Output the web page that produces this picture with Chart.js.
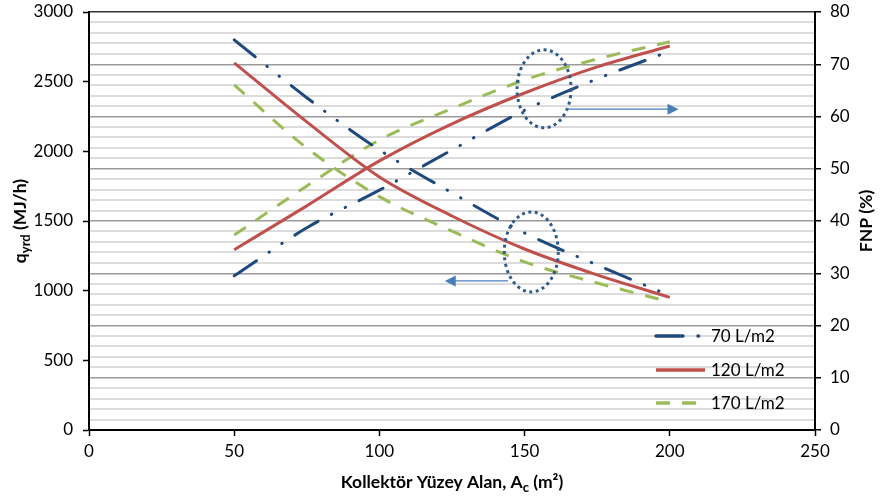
<!DOCTYPE html>
<html>
<head>
<meta charset="utf-8">
<script src="https://cdn.jsdelivr.net/npm/chart.js@4.4.0/dist/chart.umd.min.js"></script>
<style>
	body { margin: 0; background: #fff; }
	canvas { display: block; }
</style>
</head>
<body>
<canvas id="fnp-chart" width="882" height="500"></canvas>
<script>
// Kollektör alanı (m2)
const areas = [50, 75, 100, 125, 150, 175, 200];

// q_yrd (MJ/h) - left axis
const q70 = [2800, 2385, 2010, 1702, 1414, 1184, 965];
const q120 = [2635, 2211, 1816, 1536, 1299, 1113, 952];
const q170 = [2477, 2024, 1675, 1428, 1206, 1055, 919];

// FNP (%) - right axis
const fnp70 = [29.5, 38.7, 45.9, 53.6, 61.2, 67.2, 72.5];
const fnp120 = [34.5, 42.9, 51.5, 58.6, 64.5, 69.5, 73.5];
const fnp170 = [37.3, 46.7, 55.5, 61.5, 67.0, 71.0, 74.3];

const seriesNames = ['70 L/m2', '120 L/m2', '170 L/m2'];

const BLUE = '#1F497D';
const RED = '#C0504D';
const GREEN = '#9BBB59';
const FONT = 'Lato, "Open Sans", sans-serif';

const styles = [
	{ color: BLUE, dash: [27, 15, 0.5, 15, 0.5, 15], cap: 'round' },
	{ color: RED, dash: [], cap: 'butt' },
	{ color: GREEN, dash: [14, 12], cap: 'butt' }
];

const pts = (ys) => areas.map((x, i) => ({ x: x, y: ys[i] }));

function makeSet(label, ys, st, axis) {
	return {
		label: label,
		data: pts(ys),
		yAxisID: axis,
		borderColor: st.color,
		borderWidth: 3,
		borderDash: st.dash,
		borderCapStyle: st.cap,
		pointRadius: 0,
		fill: false,
		tension: 0.4,
		cubicInterpolationMode: 'monotone'
	};
}

// keep the plot box fixed: no extra room for half label heights
const noPad = (s) => {
	s.paddingTop = 0;
	s.paddingBottom = 0;
	s.paddingLeft = 0;
	s.paddingRight = 0;
};

// ellipses, arrows, legend and axis titles
const decor = {
	id: 'decor',
	afterDatasetsDraw(chart) {
		const c = chart.ctx;
		const x = chart.scales.x, yl = chart.scales.y, yr = chart.scales.y1;

		// dotted ellipses
		c.save();
		c.strokeStyle = '#2E5A8C';
		c.lineWidth = 3;
		c.setLineDash([3, 3.5]);
		c.beginPath();
		c.ellipse(x.getPixelForValue(156.7), yr.getPixelForValue(65.3), 27, 39, 0, 0, Math.PI * 2);
		c.stroke();
		c.beginPath();
		c.ellipse(x.getPixelForValue(152.3), yl.getPixelForValue(1278), 27, 40, 0, 0, Math.PI * 2);
		c.stroke();
		c.restore();

		// arrows
		const arrow = (x0, x1, y) => {
			c.save();
			c.strokeStyle = '#4A7EBB';
			c.fillStyle = '#4A7EBB';
			c.lineWidth = 1.3;
			const dir = Math.sign(x1 - x0);
			c.beginPath();
			c.moveTo(x0, y);
			c.lineTo(x1 - dir * 10, y);
			c.stroke();
			c.beginPath();
			c.moveTo(x1, y);
			c.lineTo(x1 - dir * 11, y - 5.5);
			c.lineTo(x1 - dir * 11, y + 5.5);
			c.closePath();
			c.fill();
			c.restore();
		};
		arrow(x.getPixelForValue(164.4), x.getPixelForValue(203), yr.getPixelForValue(61.4));
		arrow(x.getPixelForValue(144.3), x.getPixelForValue(122.5), yl.getPixelForValue(1070));
	},
	afterDraw(chart) {
		const c = chart.ctx;
		const a = chart.chartArea;

		// legend
		const legY = [336, 370, 403];
		c.save();
		styles.forEach((st, i) => {
			c.strokeStyle = st.color;
			c.lineWidth = 3.5;
			c.lineCap = st.cap;
			c.setLineDash(st.dash);
			c.beginPath();
			c.moveTo(656, legY[i]);
			c.lineTo(705, legY[i]);
			c.stroke();
			c.setLineDash([]);
			c.fillStyle = '#000';
			c.font = '17px ' + FONT;
			c.textAlign = 'left';
			c.textBaseline = 'middle';
			c.fillText(seriesNames[i], 711, legY[i] + 1);
		});
		c.restore();

		// titles with subscripts
		const drawParts = (parts, cx, cy, rot) => {
			c.save();
			c.translate(cx, cy);
			c.rotate(rot);
			c.fillStyle = '#000';
			c.textBaseline = 'alphabetic';
			c.textAlign = 'left';
			let w = 0;
			parts.forEach(p => {
				c.font = 'bold ' + (p.sub ? 13 : 17.5) + 'px ' + FONT;
				p.w = c.measureText(p.t).width;
				w += p.w;
			});
			let px = -w / 2;
			parts.forEach(p => {
				c.font = 'bold ' + (p.sub ? 13 : 17.5) + 'px ' + FONT;
				c.fillText(p.t, px, 6 + (p.sub ? 4 : 0));
				px += p.w;
			});
			c.restore();
		};
		const mid = (a.top + a.bottom) / 2;
		drawParts([{ t: 'Kollektör Yüzey Alan, A' }, { t: 'c', sub: true }, { t: ' (m²)' }],
			(a.left + a.right) / 2, 482, 0);
		drawParts([{ t: 'q' }, { t: 'yrd', sub: true }, { t: ' (MJ/h)' }], 20, mid, -Math.PI / 2);
		drawParts([{ t: 'FNP (%)' }], 866, mid, -Math.PI / 2);
	}
};

const tickFont = { family: FONT, size: 17 };

const ctx = document.getElementById('fnp-chart');
new Chart(ctx, {
	type: 'line',
	data: {
		datasets: [
			makeSet(seriesNames[0], q70, styles[0], 'y'),
			makeSet(seriesNames[1], q120, styles[1], 'y'),
			makeSet(seriesNames[2], q170, styles[2], 'y'),
			makeSet(seriesNames[0], fnp70, styles[0], 'y1'),
			makeSet(seriesNames[1], fnp120, styles[1], 'y1'),
			makeSet(seriesNames[2], fnp170, styles[2], 'y1')
		]
	},
	options: {
		responsive: false,
		animation: false,
		layout: { padding: { top: 12, left: 0, right: 0, bottom: 0 } },
		plugins: {
			legend: { display: false },
			tooltip: { enabled: false }
		},
		scales: {
			x: {
				type: 'linear',
				min: 0,
				max: 250,
				z: 1,
				afterFit: (s) => { s.height = 70; noPad(s); },
				ticks: { stepSize: 50, color: '#000', font: tickFont, padding: 5, callback: (v) => String(v) },
				grid: { drawOnChartArea: false, tickLength: 6, tickColor: '#000', tickWidth: 1.5 },
				border: { color: '#000', width: 2 }
			},
			y: {
				position: 'left',
				min: 0,
				max: 3000,
				z: 1,
				afterFit: (s) => { s.width = 89; noPad(s); },
				ticks: { stepSize: 500, color: '#000', font: tickFont, padding: 10, callback: (v) => String(v) },
				grid: { drawOnChartArea: false, tickLength: 6, tickColor: '#000', tickWidth: 1.5 },
				border: { color: '#000', width: 2 }
			},
			y1: {
				position: 'right',
				min: 0,
				max: 80,
				afterFit: (s) => { s.width = 67; noPad(s); },
				ticks: {
					stepSize: 2,
					autoSkip: false,
					color: '#000',
					font: tickFont,
					padding: 9,
					callback: (v) => (v % 10 === 0 ? String(v) : '')
				},
				grid: {
					tickLength: 6,
					color: (c) => {
						const v = c.tick ? c.tick.value : 0;
						if (v === 80) return '#333';
						return v % 10 === 0 ? '#9a9a9a' : '#dcdcdc';
					},
					lineWidth: (c) => (c.tick && c.tick.value % 10 === 0 ? 1.5 : 2),
					tickColor: (c) => (c.tick && c.tick.value % 10 === 0 ? '#000' : 'rgba(0,0,0,0)'),
					tickWidth: 1.5
				},
				border: { color: '#000', width: 2 }
			}
		}
	},
	plugins: [decor]
});
</script>
</body>
</html>
